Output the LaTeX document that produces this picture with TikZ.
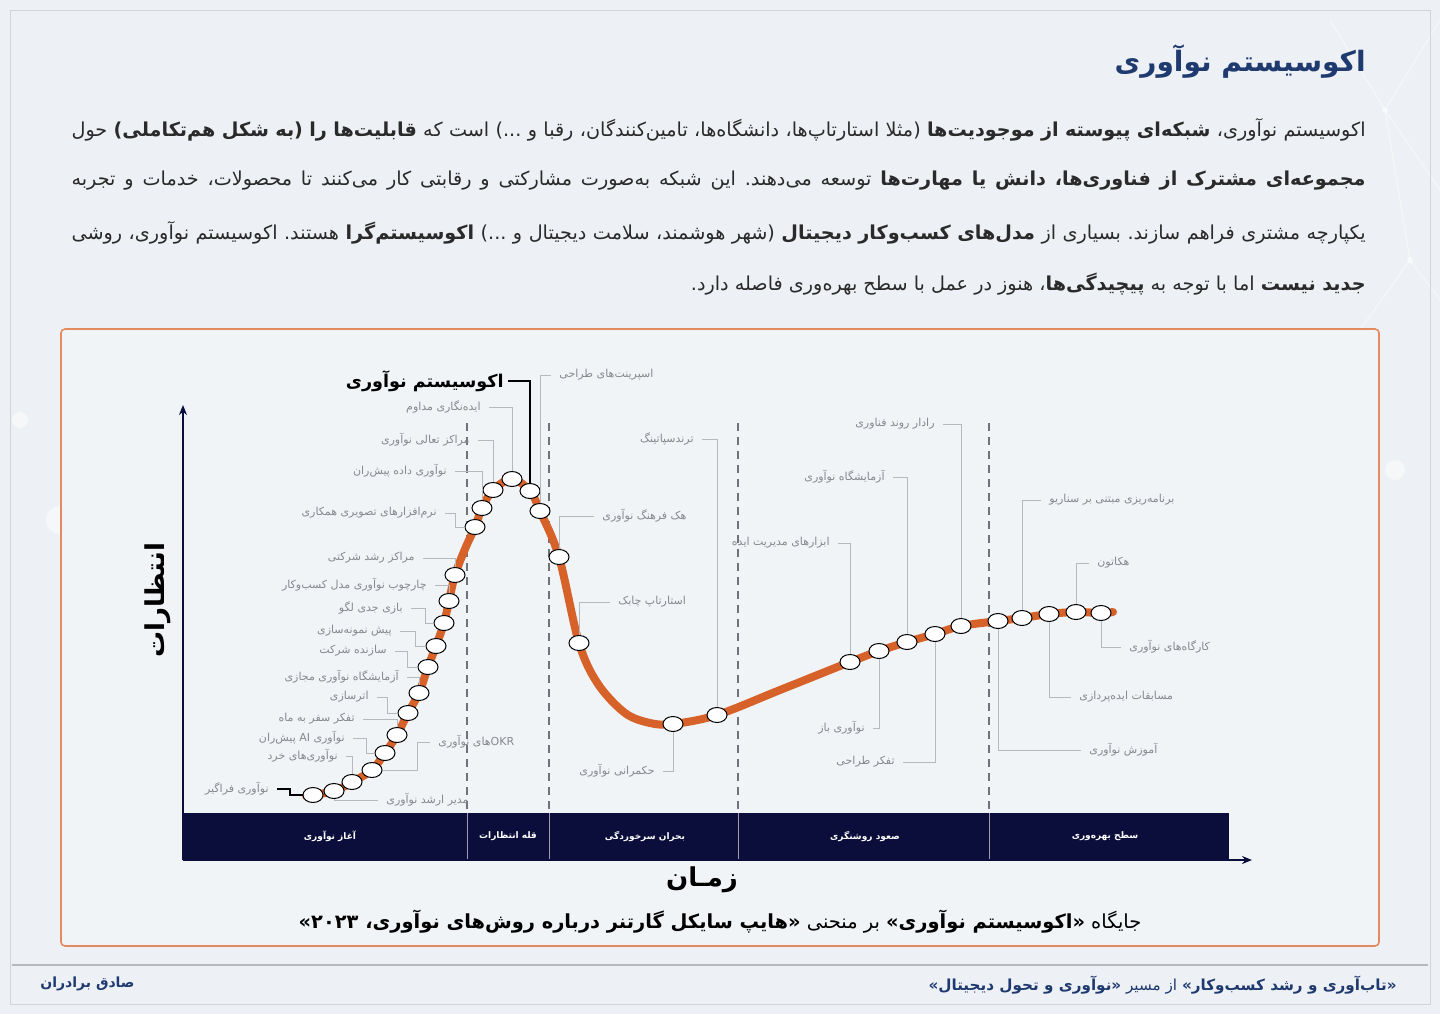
\documentclass[tikz,border=0pt]{standalone}
\usepackage{fontspec}
\newfontfamily\fa[Script=Arabic]{DejaVu Sans}
\TeXXeTstate=1
\usetikzlibrary{shapes.geometric,arrows.meta}
\definecolor{bgc}{HTML}{EDF0F4}
\definecolor{boxc}{HTML}{F1F4F7}
\definecolor{titleblue}{HTML}{1F3A6F}
\definecolor{bodyc}{HTML}{2A2A2A}
\definecolor{labgray}{HTML}{85888D}
\definecolor{conngray}{HTML}{B5B8BD}
\definecolor{curvec}{HTML}{D6622A}
\definecolor{framec}{HTML}{E38B5E}
\definecolor{navy}{HTML}{0B0E3A}
\definecolor{dashc}{HTML}{6F7378}
\newcommand\LL[1]{\beginL#1\endL}
\newcommand\jline[2]{\hbox to #1{\frenchspacing\spaceskip=0.25em plus 1fil\xspaceskip=\spaceskip\beginR #2\endR}}
\tikzset{
  lab/.style={font=\fa\fontsize{5.5pt}{6.5pt}\selectfont, text=labgray, inner xsep=4pt, inner ysep=1pt},
  hc/.style={ellipse, draw=black, line width=0.5pt, fill=white, minimum width=10pt, minimum height=7.5pt, inner sep=0pt},
  conn/.style={draw=conngray, line width=0.5pt},
  darkconn/.style={draw=black, line width=0.9pt},
  phase/.style={font=\fa\bfseries\fontsize{4.5pt}{5pt}\selectfont, text=white},
  para/.style={font=\fa\fontsize{9.6pt}{10.5pt}\selectfont\frenchspacing, text=bodyc, inner sep=0pt, anchor=east},
  dashln/.style={draw=dashc, line width=0.6pt, dash pattern=on 4pt off 3pt},
}
\begin{document}
\begin{tikzpicture}[x=0.5pt,y=-0.5pt]
\useasboundingbox (0,0) rectangle (1440,1014);
\fill[bgc] (0,0) rectangle (1440,1014);
% faint background network
\begin{scope}[white, opacity=0.55, line width=0.5pt]
\draw (1440,20) -- (1385,110) -- (1440,190);
\draw (1385,110) -- (1330,20);
\draw (1385,110) -- (1410,260) -- (1440,300);
\draw (1410,260) -- (1360,330);
\fill (1385,110) circle (3);
\fill (1410,260) circle (3);
\fill[opacity=0.5] (60,520) circle (14);
\fill[opacity=0.5] (230,460) circle (10);
\fill[opacity=0.5] (1395,470) circle (10);
\fill[opacity=0.5] (20,420) circle (8);
\end{scope}
\draw[draw=conngray!60, line width=0.5pt] (10,10) rectangle (1430,1004);
% title
\node[font=\fa\bfseries\fontsize{14pt}{16pt}\selectfont, text=titleblue, anchor=east, inner sep=0pt] (title) at (1366,62) {\beginR اکوسیستم نوآوری\endR};
% paragraph
\node[para] (p1) at (1366,130) {\jline{647pt}{اکوسیستم نوآوری، {\bfseries شبکه^^^^200cای پیوسته از موجودیت^^^^200cها} (مثلا استارتاپ^^^^200cها، دانشگاه^^^^200cها، تامین^^^^200cکنندگان، رقبا و ...) است که {\bfseries قابلیت^^^^200cها را (به شکل هم^^^^200cتکاملی)} حول}};
\node[para] (p2) at (1366,181) {\jline{647pt}{{\bfseries مجموعه^^^^200cای مشترک از فناوری^^^^200cها، دانش یا مهارت^^^^200cها} توسعه می^^^^200cدهند. این شبکه به^^^^200cصورت مشارکتی و رقابتی کار می^^^^200cکنند تا محصولات، خدمات و تجربه}};
\node[para] (p3) at (1366,233) {\jline{647pt}{یکپارچه مشتری فراهم سازند. بسیاری از {\bfseries مدل^^^^200cهای کسب^^^^200cوکار دیجیتال} (شهر هوشمند، سلامت دیجیتال و ...) {\bfseries اکوسیستم^^^^200cگرا} هستند. اکوسیستم نوآوری، روشی}};
\node[para] (p4) at (1366,284) {\beginR{\bfseries جدید نیست} اما با توجه به {\bfseries پیچیدگی^^^^200cها}، هنوز در عمل با سطح بهره^^^^200cوری فاصله دارد.\endR};
% chart frame
\draw[framec, line width=0.8pt, fill=boxc, rounded corners=2pt] (61,329) rectangle (1379,946);
% phase band
\fill[navy] (183,813) rectangle (1229,860);
\foreach \x in {467,549,738,989} {
  \draw[dashln] (\x,423) -- (\x,813);
  \draw[white!60!navy, line width=0.4pt] (\x,813) -- (\x,860);
}
\node[phase] (ph1) at (330,836) {\beginR آغاز نوآوری\endR};
\node[phase] (ph2) at (508,836) {\beginR قله انتظارات\endR};
\node[phase] (ph3) at (645,836) {\beginR بحران سرخوردگی\endR};
\node[phase] (ph4) at (865,836) {\beginR صعود روشنگری\endR};
\node[phase] (ph5) at (1105,836) {\beginR سطح بهره^^^^200cوری\endR};
% axes
\draw[navy, line width=0.8pt, -{Stealth[length=5pt,width=4pt]}] (183,860) -- (183,405);
\draw[navy, line width=0.8pt, -{Stealth[length=5pt,width=4pt]}] (183,860) -- (1252,860);
\node[font=\fa\bfseries\fontsize{13pt}{14pt}\selectfont, rotate=90] (ylab) at (158,600) {\beginR انتظارات\endR};
\node[font=\fa\bfseries\fontsize{13pt}{14pt}\selectfont] (xlab) at (702,880) {\beginR زم^^^^0640ان\endR};
% caption
\node[font=\fa\fontsize{9.7pt}{11pt}\selectfont, text=black] (cap) at (720,922) {\beginR جایگاه {\bfseries «اکوسیستم نوآوری»} بر منحنی {\bfseries «هایپ سایکل گارتنر درباره روش^^^^200cهای نوآوری، ۲۰۲۳»}\endR};
% curve
\draw[curvec, line width=4pt, line cap=round] plot[smooth, tension=0.55] coordinates {
(306,796) (334,791) (352,782) (372,770) (385,753) (397,735) (408,713) (419,693) (428,667) (436,646) (444,623) (449,601) (455,575) (465,549) (475,527) (482,508) (493,490) (512,479) (530,491) (540,511) (559,557) (579,643) (598,684) (625,713) (650,723) (673,724) (717,715) (780,690) (850,662) (879,651) (907,642) (935,634) (961,626) (998,621) (1022,618) (1049,614) (1076,612) (1101,613) (1113,612)};
% points
\node[hc] (e1) at (313,795) {};
\node[hc] (e2) at (334,791) {};
\node[hc] (e3) at (352,782) {};
\node[hc] (e4) at (372,770) {};
\node[hc] (e5) at (385,753) {};
\node[hc] (e6) at (397,735) {};
\node[hc] (e7) at (408,713) {};
\node[hc] (e8) at (419,693) {};
\node[hc] (e9) at (428,667) {};
\node[hc] (e10) at (436,646) {};
\node[hc] (e11) at (444,623) {};
\node[hc] (e12) at (449,601) {};
\node[hc] (e13) at (455,575) {};
\node[hc] (e14) at (475,527) {};
\node[hc] (e15) at (482,508) {};
\node[hc] (e16) at (493,490) {};
\node[hc] (e17) at (512,479) {};
\node[hc] (e18) at (530,491) {};
\node[hc] (e19) at (540,511) {};
\node[hc] (e20) at (559,557) {};
\node[hc] (e21) at (579,643) {};
\node[hc] (e22) at (673,724) {};
\node[hc] (e23) at (717,715) {};
\node[hc] (e24) at (850,662) {};
\node[hc] (e25) at (879,651) {};
\node[hc] (e26) at (907,642) {};
\node[hc] (e27) at (935,634) {};
\node[hc] (e28) at (961,626) {};
\node[hc] (e29) at (998,621) {};
\node[hc] (e30) at (1022,618) {};
\node[hc] (e31) at (1049,614) {};
\node[hc] (e32) at (1076,612) {};
\node[hc] (e33) at (1101,613) {};
% labels
\node[lab, anchor=east] (l1) at (277,789) {\beginR نوآوری فراگیر\endR};
\node[lab, anchor=west] (l2) at (378,800) {\beginR مدیر ارشد نوآوری\endR};
\node[lab, anchor=east] (l3) at (346,756) {\beginR نوآوری^^^^200cهای خرد\endR};
\node[lab, anchor=west] (l4) at (430,742) {\beginR\LL{OKR}^^^^200cهای نوآوری\endR};
\node[lab, anchor=east] (l5) at (353,738) {\beginR نوآوری \LL{AI} پیش^^^^200cران\endR};
\node[lab, anchor=east] (l6) at (363,719) {\beginR تفکر سفر به ماه\endR};
\node[lab, anchor=east] (l7) at (377,697) {\beginR اترسازی\endR};
\node[lab, anchor=east] (l8) at (407,677) {\beginR آزمایشگاه نوآوری مجازی\endR};
\node[lab, anchor=east] (l9) at (395,651) {\beginR سازنده شرکت\endR};
\node[lab, anchor=east] (l10) at (400,631) {\beginR پیش نمونه^^^^200cسازی\endR};
\node[lab, anchor=east] (l11) at (411,608) {\beginR بازی جدی لگو\endR};
\node[lab, anchor=east] (l12) at (435,585) {\beginR چارچوب نوآوری مدل کسب^^^^200cوکار\endR};
\node[lab, anchor=east] (l13) at (423,558) {\beginR مراکز رشد شرکتی\endR};
\node[lab, anchor=east] (l14) at (445,513) {\beginR نرم^^^^200cافزارهای تصویری همکاری\endR};
\node[lab, anchor=east] (l15) at (455,471) {\beginR نوآوری داده پیش^^^^200cران\endR};
\node[lab, anchor=east] (l16) at (478,440) {\beginR مراکز تعالی نوآوری\endR};
\node[lab, anchor=east] (l17) at (489,407) {\beginR ایده^^^^200cنگاری مداوم\endR};
\node[font=\fa\bfseries\fontsize{8.8pt}{10pt}\selectfont, text=black, anchor=east, inner xsep=2pt] (l18) at (508,381) {\beginR اکوسیستم نوآوری\endR};
\node[lab, anchor=west] (l19) at (551,375) {\beginR اسپرینت^^^^200cهای طراحی\endR};
\node[lab, anchor=west] (l20) at (594,516) {\beginR هک فرهنگ نوآوری\endR};
\node[lab, anchor=west] (l21) at (610,602) {\beginR استارتاپ چابک\endR};
\node[lab, anchor=east] (l22) at (663,771) {\beginR حکمرانی نوآوری\endR};
\node[lab, anchor=east] (l23) at (702,439) {\beginR ترندسپاتینگ\endR};
\node[lab, anchor=east] (l24) at (838,543) {\beginR ابزارهای مدیریت ایده\endR};
\node[lab, anchor=east] (l25) at (873,728) {\beginR نوآوری باز\endR};
\node[lab, anchor=east] (l26) at (893,477) {\beginR آزمایشگاه نوآوری\endR};
\node[lab, anchor=east] (l27) at (903,762) {\beginR تفکر طراحی\endR};
\node[lab, anchor=east] (l28) at (943,424) {\beginR رادار روند فناوری\endR};
\node[lab, anchor=west] (l29) at (1081,750) {\beginR آموزش نوآوری\endR};
\node[lab, anchor=west] (l30) at (1041,500) {\beginR برنامه^^^^200cریزی مبتنی بر سناریو\endR};
\node[lab, anchor=west] (l31) at (1071,697) {\beginR مسابقات ایده^^^^200cپردازی\endR};
\node[lab, anchor=west] (l32) at (1089,563) {\beginR هکاتون\endR};
\node[lab, anchor=west] (l33) at (1121,647) {\beginR کارگاه^^^^200cهای نوآوری\endR};
% connectors
\draw[darkconn] (l1.east) -- ++(13,0) |- (e1.west);
\draw[conn] (e2.south) |- (l2.west);
\draw[conn] (l3.east) -| (e3.north);
\draw[conn] (e4.east) -- ++(35,0) |- (l4.west);
\draw[conn] (l5.east) -- ++(13,0) |- (e5.west);
\draw[conn] (l6.east) -| (e6.north);
\draw[conn] (l7.east) -- ++(10,0) |- (e7.west);
\draw[conn] (l8.east) -| (e8.north);
\draw[conn] (l9.east) -- ++(12,0) |- (e9.west);
\draw[conn] (l10.east) -- ++(15,0) |- (e10.west);
\draw[conn] (l11.east) -- ++(14,0) |- (e11.west);
\draw[conn] (l12.east) -| (e12.north);
\draw[conn] (l13.east) -| (e13.north);
\draw[conn] (l14.east) -- ++(10,0) |- (e14.west);
\draw[conn] (l15.east) -| (e15.north);
\draw[conn] (l16.east) -| (e16.north);
\draw[conn] (l17.east) -| (e17.north);
\draw[draw=black, line width=1.2pt] (l18.east) -| (e18.north);
\draw[conn] (l19.west) -| (e19.north);
\draw[conn] (l20.west) -| (e20.north);
\draw[conn] (l21.west) -| (e21.north);
\draw[conn] (e22.south) |- (l22.east);
\draw[conn] (l23.east) -| (e23.north);
\draw[conn] (l24.east) -| (e24.north);
\draw[conn] (e25.south) |- (l25.east);
\draw[conn] (l26.east) -| (e26.north);
\draw[conn] (e27.south) |- (l27.east);
\draw[conn] (l28.east) -| (e28.north);
\draw[conn] (e29.south) |- (l29.west);
\draw[conn] (l30.west) -| (e30.north);
\draw[conn] (e31.south) |- (l31.west);
\draw[conn] (l32.west) -| (e32.north);
\draw[conn] (e33.south) |- (l33.west);
% footer
\draw[conngray, line width=0.6pt] (12,965) -- (1428,965);
\node[font=\fa\bfseries\fontsize{7pt}{8pt}\selectfont, text=titleblue, anchor=west, inner sep=0pt] (author) at (40,984) {\beginR صادق برادران\endR};
\node[font=\fa\fontsize{7.6pt}{8.5pt}\selectfont, text=titleblue, anchor=east, inner sep=0pt] (foot) at (1397,985) {\beginR{\bfseries «تاب^^^^200cآوری و رشد کسب^^^^200cوکار»} از مسیر {\bfseries «نوآوری و تحول دیجیتال»}\endR};
\end{tikzpicture}
\end{document}
